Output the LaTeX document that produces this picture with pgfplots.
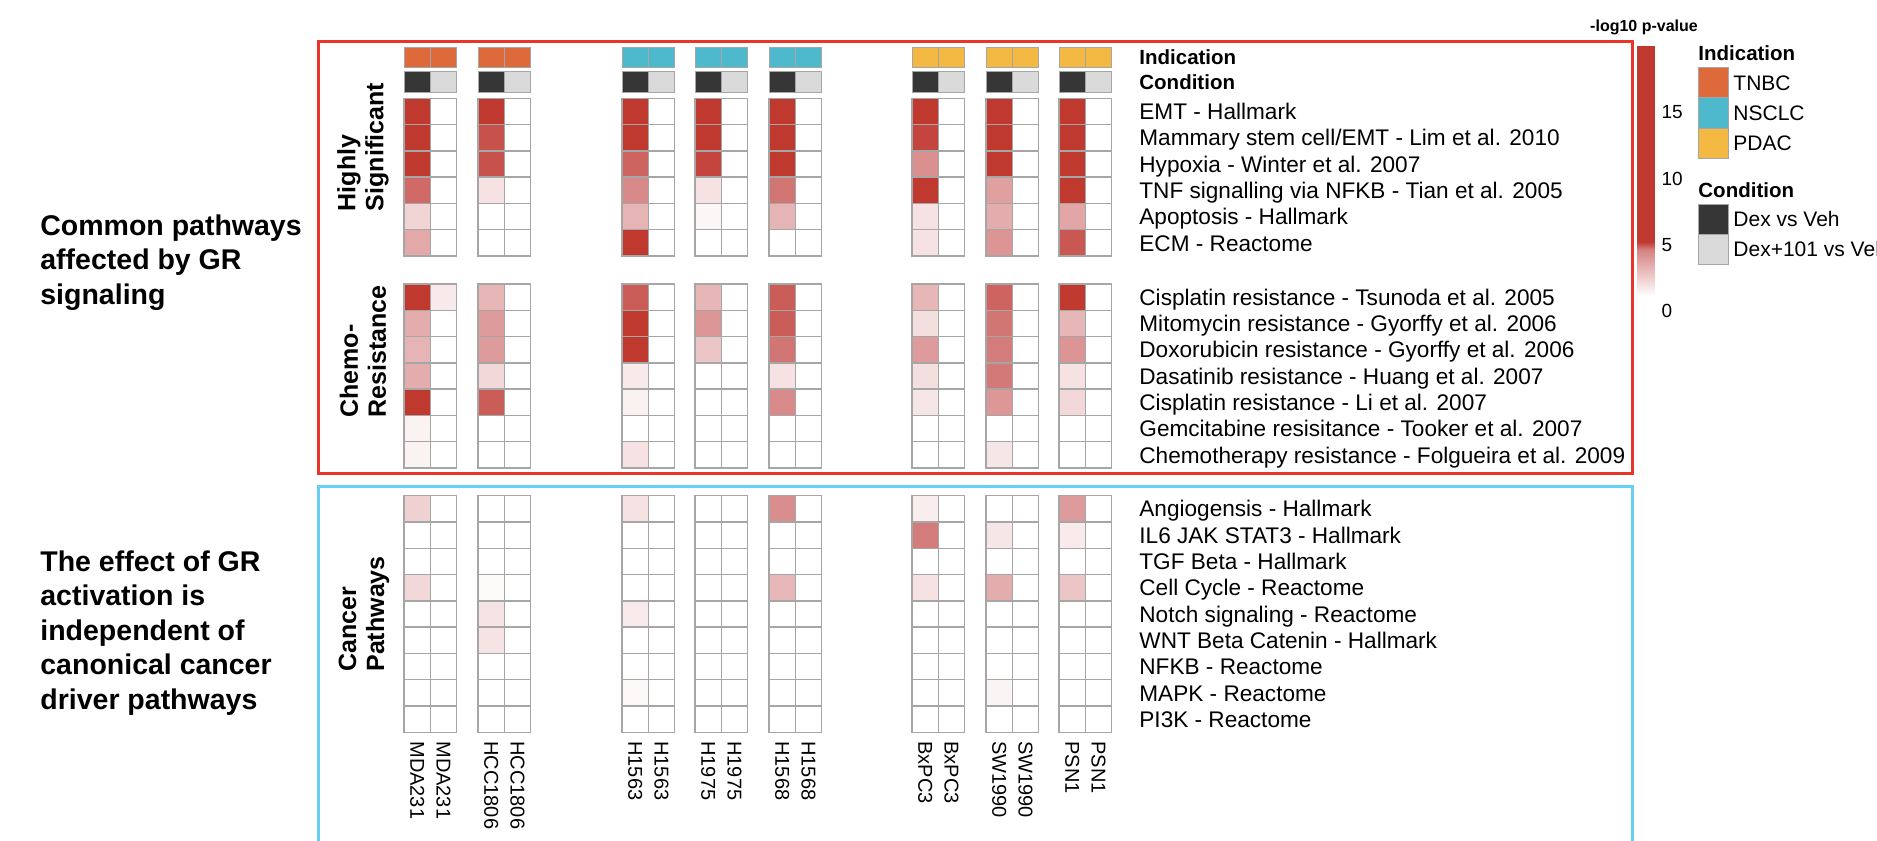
\documentclass[border=0pt]{standalone}
\usepackage{pgfplots}
\pgfplotsset{compat=1.18}
\usepackage{pgfplotstable}
\usepackage{fontspec}
\setmainfont{Liberation Sans}
\usetikzlibrary{calc}

\definecolor{cellgray}{RGB}{166,166,166}
\definecolor{boxred}{RGB}{232,53,42}
\definecolor{boxblue}{RGB}{104,206,243}
\definecolor{tnbc}{RGB}{222,106,60}
\definecolor{nsclc}{RGB}{78,184,204}
\definecolor{pdac}{RGB}{244,185,66}
\definecolor{dexveh}{RGB}{54,54,54}
\definecolor{dexone}{RGB}{218,218,218}

\pgfdeclareplotmark{annrect}{%
  \pgfpathrectangle{\pgfpoint{-6.5875pt}{-5.125pt}}{\pgfpoint{13.175pt}{10.25pt}}%
  \pgfusepathqfillstroke}

% -log10 p-value per cell: columns c1..c16 = MDA231, HCC1806, H1563, H1975, H1568, BxPC3, SW1990, PSN1 (Dex vs Veh, Dex+101 vs Veh)
\pgfplotstableread{
y      c1   c2  c3   c4 c5   c6 c7   c8 c9   c10 c11  c12 c13  c14 c15  c16
111.45 10   0   10   0  10   0  10   0  10   0   10   0   10   0   10   0
137.75 10   0   4.8  0  10   0  10   0  10   0   4.9  0   10   0   10   0
164.05 10   0   4.8  0  4.65 0  4.9  0  10   0   4.0  0   10   0   10   0
190.35 4.6  0   1.7  0  4.2  0  1.7  0  4.5  0   10   0   3.55 0   10   0
216.65 2.1  0   0    0  3.0  0  1.15 0  3.0  0   1.7  0   3.2  0   3.4  0
242.95 3.3  0   0    0  10   0  0    0  0    0   1.7  0   3.9  0   4.75 0
297.15 10   1.5 2.95 0  4.7  0  2.95 0  4.7  0   2.95 0   4.65 0   10   0
323.45 3.2  0   3.7  0  10   0  3.85 0  4.7  0   1.8  0   4.5  0   2.95 0
349.75 3.0  0   3.7  0  10   0  2.5  0  4.5  0   3.7  0   4.45 0   3.9  0
376.05 3.2  0   2.0  0  1.5  0  0    0  1.7  0   1.8  0   4.47 0   1.7  0
402.35 10   0   4.7  0  1.3  0  0    0  4.15 0   1.6  0   3.8  0   2.0  0
428.65 1.25 0   0    0  0    0  0    0  0    0   0    0   0    0   0    0
454.95 1.25 0   0    0  1.7  0  0    0  0    0   0    0   1.6  0   0    0
508.85 2.2  0   0    0  1.7  0  0    0  4.1  0   1.4  0   0    0   3.7  0
535.15 0    0   0    0  0    0  0    0  0    0   4.45 0   1.6  0   1.45 0
561.45 0    0   0    0  0    0  0    0  0    0   0    0   0    0   0    0
587.75 2.0  0   1.05 0  0    0  0    0  2.9  0   1.7  0   3.2  0   2.5  0
614.05 0    0   1.65 0  1.45 0  0    0  0    0   0    0   0    0   0    0
640.35 0    0   1.65 0  0    0  0    0  0    0   0    0   0    0   0    0
666.65 0    0   0    0  0    0  0    0  0    0   0    0   0    0   0    0
692.95 0    0   0    0  1.1  0  0    0  0    0   0    0   1.2  0   0    0
719.25 0    0   0    0  0    0  0    0  0    0   0    0   0    0   0    0
}\heat

\pgfplotsset{
  heatcell/.style={scatter, only marks, mark=square*, mark size=6.5875pt,
    point meta=explicit,
    scatter/use mapped color={draw=cellgray, fill=mapped color},
    mark options={line width=0.7pt}},
}
\newcommand\plotcol[2]{\addplot[heatcell] table[x expr=#1, y=y, meta=c#2]{\heat};}
\newcommand\rowlab[2]{\node[anchor=base west, inner sep=0, font=\fontsize{11.3}{13}\selectfont] at (axis cs:1139,#1) {#2};}
\newcommand\collab[2]{\node[rotate=-90, anchor=west, inner sep=0, font=\fontsize{10}{12}\selectfont] at (axis cs:#1,741) {#2};}

\begin{document}
\begin{tikzpicture}
\path[use as bounding box, clip] (0,0) rectangle (938.5pt,420pt);
\begin{axis}[
  at={(0,0)}, anchor=south west,
  scale only axis, width=938.5pt, height=420pt,
  xmin=0, xmax=1877, ymin=0, ymax=840, y dir=reverse,
  hide axis, clip=false,
  colormap={heat}{rgb255(0pt)=(255,255,255); rgb255(9pt)=(255,255,255);
    rgb255(44pt)=(214,130,130); rgb255(50pt)=(192,57,47); rgb255(198pt)=(192,57,47)},
  point meta min=0, point meta max=19.8,
  colorbar,
  colorbar style={
    at={($(parent axis.north west)+(810.25pt,-23pt)$)}, anchor=north west,
    width=8.5pt, height=131pt,
    ytick={0,5,10,15},
    axis line style={draw=none},
    major tick length=0pt,
    yticklabel style={font=\fontsize{9.5}{11}\selectfont, yshift=-1.5pt,
      /pgf/number format/assume math mode=true},
  },
]
% boxes
\draw[boxred, line width=1.5pt] (axis cs:318,42) rectangle (axis cs:1632,473);
\draw[boxblue, line width=1.5pt] (axis cs:318,486.5) rectangle (axis cs:1632,870);

% heatmap cells
\plotcol{417.2}{1}  \plotcol{443.5}{2}
\plotcol{491.2}{3}  \plotcol{517.5}{4}
\plotcol{635.2}{5}  \plotcol{661.5}{6}
\plotcol{708.2}{7}  \plotcol{734.5}{8}
\plotcol{782.2}{9}  \plotcol{808.5}{10}
\plotcol{925.2}{11} \plotcol{951.5}{12}
\plotcol{999.2}{13} \plotcol{1025.5}{14}
\plotcol{1072.2}{15} \plotcol{1098.5}{16}

% annotation: indication
\addplot[only marks, mark=annrect, mark options={fill=tnbc, draw=cellgray, line width=0.5pt}]
  coordinates {(417.2,57.5) (443.5,57.5) (491.2,57.5) (517.5,57.5)};
\addplot[only marks, mark=annrect, mark options={fill=nsclc, draw=cellgray, line width=0.5pt}]
  coordinates {(635.2,57.5) (661.5,57.5) (708.2,57.5) (734.5,57.5) (782.2,57.5) (808.5,57.5)};
\addplot[only marks, mark=annrect, mark options={fill=pdac, draw=cellgray, line width=0.5pt}]
  coordinates {(925.2,57.5) (951.5,57.5) (999.2,57.5) (1025.5,57.5) (1072.2,57.5) (1098.5,57.5)};
% annotation: condition
\addplot[only marks, mark=annrect, mark options={fill=dexveh, draw=cellgray, line width=0.5pt}]
  coordinates {(417.2,82) (491.2,82) (635.2,82) (708.2,82) (782.2,82) (925.2,82) (999.2,82) (1072.2,82)};
\addplot[only marks, mark=annrect, mark options={fill=dexone, draw=cellgray, line width=0.5pt}]
  coordinates {(443.5,82) (517.5,82) (661.5,82) (734.5,82) (808.5,82) (951.5,82) (1025.5,82) (1098.5,82)};

% row labels
\node[anchor=base west, inner sep=0, font=\bfseries\fontsize{10.25}{12}\selectfont] at (axis cs:1139,64.8) {Indication};
\node[anchor=base west, inner sep=0, font=\bfseries\fontsize{10.25}{12}\selectfont] at (axis cs:1139,89.3) {Condition};
\rowlab{119.55}{EMT - Hallmark}
\rowlab{145.85}{Mammary stem cell/EMT - Lim et al. 2010}
\rowlab{172.15}{Hypoxia - Winter et al. 2007}
\rowlab{198.45}{TNF signalling via NFKB - Tian et al. 2005}
\rowlab{224.75}{Apoptosis - Hallmark}
\rowlab{251.05}{ECM - Reactome}
\rowlab{305.25}{Cisplatin resistance - Tsunoda et al. 2005}
\rowlab{331.55}{Mitomycin resistance - Gyorffy et al. 2006}
\rowlab{357.85}{Doxorubicin resistance - Gyorffy et al. 2006}
\rowlab{384.15}{Dasatinib resistance - Huang et al. 2007}
\rowlab{410.45}{Cisplatin resistance - Li et al. 2007}
\rowlab{436.75}{Gemcitabine resisitance - Tooker et al. 2007}
\rowlab{463.05}{Chemotherapy resistance - Folgueira et al. 2009}
\rowlab{516.95}{Angiogensis - Hallmark}
\rowlab{543.25}{IL6 JAK STAT3 - Hallmark}
\rowlab{569.55}{TGF Beta - Hallmark}
\rowlab{595.85}{Cell Cycle - Reactome}
\rowlab{622.15}{Notch signaling - Reactome}
\rowlab{648.45}{WNT Beta Catenin - Hallmark}
\rowlab{674.75}{NFKB - Reactome}
\rowlab{701.05}{MAPK - Reactome}
\rowlab{727.35}{PI3K - Reactome}

% column labels
\collab{417.2}{MDA231}  \collab{443.5}{MDA231}
\collab{491.2}{HCC1806} \collab{517.5}{HCC1806}
\collab{635.2}{H1563}   \collab{661.5}{H1563}
\collab{708.2}{H1975}   \collab{734.5}{H1975}
\collab{782.2}{H1568}   \collab{808.5}{H1568}
\collab{925.2}{BxPC3}   \collab{951.5}{BxPC3}
\collab{999.2}{SW1990}  \collab{1025.5}{SW1990}
\collab{1072.2}{PSN1}   \collab{1098.5}{PSN1}

% group titles
\node[rotate=90, anchor=west, align=left, inner sep=0, font=\bfseries\fontsize{12.5}{14}\selectfont] at (axis cs:363,211.5) {Highly\\Significant};
\node[rotate=90, anchor=west, align=left, inner sep=0, font=\bfseries\fontsize{12.5}{14}\selectfont] at (axis cs:363,418) {Chemo-\\Resistance};
\node[rotate=90, anchor=west, align=left, inner sep=0, font=\bfseries\fontsize{12.5}{14}\selectfont] at (axis cs:364,672) {Cancer\\Pathways};

% left descriptions
\node[anchor=west, align=left, inner sep=0, font=\bfseries\fontsize{14.25}{17.25}\selectfont] at (axis cs:40,262.5) {Common pathways\\affected by GR\\signaling};
\node[anchor=west, align=left, inner sep=0, font=\bfseries\fontsize{14.25}{17.25}\selectfont] at (axis cs:40,633) {The effect of GR\\activation is\\independent of\\canonical cancer\\driver pathways};

% colorbar title
\node[anchor=base, inner sep=0, font=\bfseries\fontsize{8}{9}\selectfont] at (axis cs:1644,31.7) {-log10 p-value};

% legends
\node[anchor=base west, inner sep=0, font=\bfseries\fontsize{10.25}{12}\selectfont] at (axis cs:1698,60.3) {Indication};
\draw[cellgray, fill=tnbc, line width=0.5pt] (axis cs:1698,68) rectangle (axis cs:1728,98);
\draw[cellgray, fill=nsclc, line width=0.5pt] (axis cs:1698,98) rectangle (axis cs:1728,128);
\draw[cellgray, fill=pdac, line width=0.5pt] (axis cs:1698,128) rectangle (axis cs:1728,158);
\node[anchor=base west, inner sep=0, font=\fontsize{10.5}{12}\selectfont] at (axis cs:1733,90.5) {TNBC};
\node[anchor=base west, inner sep=0, font=\fontsize{10.5}{12}\selectfont] at (axis cs:1733,120.5) {NSCLC};
\node[anchor=base west, inner sep=0, font=\fontsize{10.5}{12}\selectfont] at (axis cs:1733,150.5) {PDAC};
\node[anchor=base west, inner sep=0, font=\bfseries\fontsize{10.25}{12}\selectfont] at (axis cs:1698,197.3) {Condition};
\draw[cellgray, fill=dexveh, line width=0.5pt] (axis cs:1698,204) rectangle (axis cs:1728,234);
\draw[cellgray, fill=dexone, line width=0.5pt] (axis cs:1698,234) rectangle (axis cs:1728,264);
\node[anchor=base west, inner sep=0, font=\fontsize{10.5}{12}\selectfont] at (axis cs:1733,226.5) {Dex vs Veh};
\node[anchor=base west, inner sep=0, font=\fontsize{10.5}{12}\selectfont] at (axis cs:1733,256.5) {Dex+101 vs Veh};
\end{axis}
\end{tikzpicture}
\end{document}
